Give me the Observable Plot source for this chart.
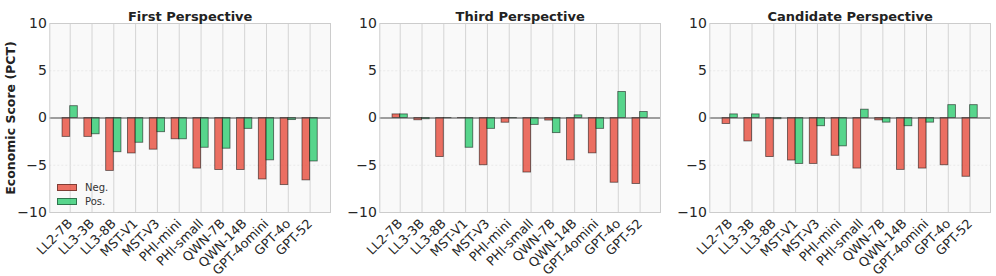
<!DOCTYPE html>
<html>
<head>
<meta charset="utf-8">
<script src="https://cdn.jsdelivr.net/npm/d3@7"></script>
<script src="https://cdn.jsdelivr.net/npm/@observablehq/plot@0.6"></script>
<style>
  html, body { margin: 0; padding: 0; background: #fff; }
  #chart { position: relative; width: 996px; height: 276px; font-family: "DejaVu Sans", sans-serif; }
  #chart svg { position: absolute; top: 0; background: transparent; overflow: visible; }
  .legend { position: absolute; left: 57px; top: 181px; font-size: 10px; color: #333; line-height: 13.5px; }
  .legend div { display: flex; align-items: center; }
  .legend span.sw { display: inline-block; width: 18px; height: 5px; margin-right: 8px; border: 0.8px solid rgba(0,0,0,0.45); }
</style>
</head>
<body>
<div id="chart"></div>
<script>
const models = ["LL2-7B","LL3-3B","LL3-8B","MST-V1","MST-V3","PHI-mini","PHI-small","QWN-7B","QWN-14B","GPT-4omini","GPT-4o","GPT-52"];
const panels = ["First Perspective","Third Perspective","Candidate Perspective"];
const firstNeg  = [-2.0,-2.0,-5.6,-3.75,-3.35,-2.25,-5.35,-5.5,-5.5,-6.5,-7.1,-6.6];
const firstPos  = [1.25,-1.72,-3.62,-2.62,-1.5,-2.25,-3.15,-3.25,-1.15,-4.48,-0.22,-4.6];
const thirdNeg  = [0.38,-0.24,-4.13,-0.02,-5.0,-0.5,-5.77,-0.27,-4.48,-3.74,-6.85,-6.98];
const thirdPos  = [0.38,-0.13,-0.02,-3.15,-1.15,-0.03,-0.73,-1.6,0.28,-1.15,2.75,0.63];
const candNeg   = [-0.63,-2.48,-4.13,-4.5,-4.86,-4.0,-5.35,-0.25,-5.49,-5.35,-5.0,-6.22];
const candPos   = [0.38,0.38,-0.13,-4.86,-0.87,-3.0,0.88,-0.49,-0.87,-0.49,1.36,1.36];
const yTicks = [-10,-5,0,5,10];
const series = [
  {neg: firstNeg, pos: firstPos},
  {neg: thirdNeg, pos: thirdPos},
  {neg: candNeg, pos: candPos}
];
const barW = 0.35;
const chart = document.getElementById("chart");
const lefts = [0, 330, 660];

panels.forEach((title, p) => {
  const rows = [];
  models.forEach((m, i) => {
    rows.push({i, kind: "Neg.", v: series[p].neg[i]});
    rows.push({i, kind: "Pos.", v: series[p].pos[i]});
  });
  const marks = [
    Plot.frame({fill: "#f9f9f9", stroke: null}),
    Plot.gridX(d3.range(models.length), {stroke: "#d4d4d4", strokeOpacity: 1, strokeWidth: 1}),
    Plot.gridY([-5, 5], {stroke: "#e6e6e6", strokeOpacity: 1, strokeDasharray: "2,2", strokeWidth: 0.8}),
    Plot.rectY(rows, {
      x1: d => d.kind === "Neg." ? d.i - barW : d.i,
      x2: d => d.kind === "Neg." ? d.i : d.i + barW,
      y1: 0, y2: "v",
      fill: d => d.kind === "Neg." ? "#e74c3c" : "#2ecc71",
      fillOpacity: 0.8,
      stroke: "#000", strokeOpacity: 0.55, strokeWidth: 0.9
    }),
    Plot.ruleY([0], {stroke: "#444", strokeWidth: 1.1}),
    Plot.frame({stroke: "#cccccc", strokeWidth: 1}),
    Plot.axisX(d3.range(models.length), {tickFormat: i => models[i], tickRotate: -45, tickSize: 0, tickPadding: 9, fontSize: 12.8, fill: "#262626", label: null}),
    Plot.axisY(yTicks, {tickFormat: d => d < 0 ? "\u2212" + Math.abs(d) : String(d), tickSize: 0, tickPadding: 3, fontSize: 14, fill: "#262626", label: null}),
    Plot.text([title], {frameAnchor: "top", dy: -12, fontWeight: "bold", fontSize: 13, fill: "#222"})
  ];
  if (p === 0) {
    marks.push(Plot.text(["Economic Score (PCT)"], {frameAnchor: "left", textAnchor: "middle", dx: -39, rotate: -90, fontWeight: "bold", fontSize: 12.5, fill: "#222"}));
  }
  const svg = Plot.plot({
    width: 333, height: 276,
    marginLeft: 49.3, marginRight: 3, marginTop: 23, marginBottom: 64,
    style: {fontFamily: "DejaVu Sans, sans-serif", background: "transparent", color: "#262626"},
    x: {type: "linear", domain: [-0.935, models.length - 1 + 0.935]},
    y: {domain: [-10, 10]},
    marks
  });
  svg.style.left = lefts[p] + "px";
  chart.appendChild(svg);
});

const legend = document.createElement("div");
legend.className = "legend";
[["Neg.", "rgba(231,76,60,0.8)"], ["Pos.", "rgba(46,204,113,0.8)"]].forEach(([t, c]) => {
  const row = document.createElement("div");
  const sw = document.createElement("span");
  sw.className = "sw";
  sw.style.background = c;
  row.appendChild(sw);
  row.appendChild(document.createTextNode(t));
  legend.appendChild(row);
});
chart.appendChild(legend);
</script>
</body>
</html>
